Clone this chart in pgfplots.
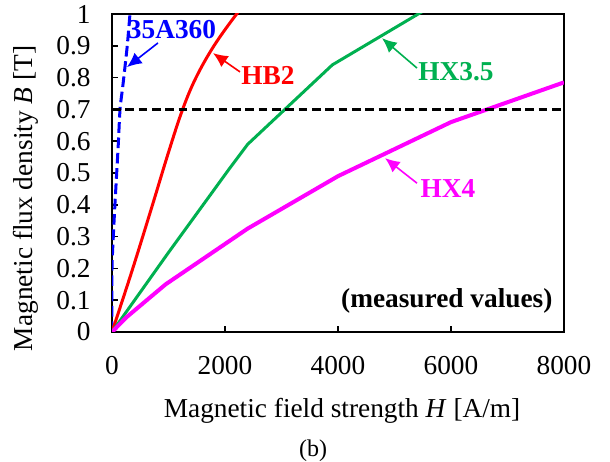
\documentclass[border=0pt]{standalone}
\usepackage{fontspec}
\setmainfont{Liberation Serif}
\usepackage{pgfplots}
\pgfplotsset{compat=1.18}
\usetikzlibrary{arrows.meta}
\definecolor{cblue}{RGB}{0,0,255}
\definecolor{cred}{RGB}{255,0,0}
\definecolor{cgreen}{RGB}{0,176,80}
\definecolor{cmag}{RGB}{255,0,255}
\newcommand{\fs}{\fontsize{20.5}{24}\selectfont}
\begin{document}
\begin{tikzpicture}
\begin{axis}[
  scale only axis, width=339pt, height=238.5pt,
  xmin=0, xmax=8000, ymin=0, ymax=1,
  xtick={0,2000,4000,6000,8000},
  ytick={0,0.1,0.2,0.3,0.4,0.5,0.6,0.7,0.8,0.9,1},
  yticklabels={0,0.1,0.2,0.3,0.4,0.5,0.6,0.7,0.8,0.9,1},
  tick align=inside, tick pos=left,
  major tick length=4.5pt,
  tick style={black, line width=1.1pt},
  axis line style={black, line width=1.5pt},
  tick label style={font=\rmfamily\fs},
  label style={font=\fs},
  /pgf/number format/assume math mode=true,
  /pgf/number format/1000 sep={},
  scaled x ticks=false,
  xticklabel style={yshift=-15pt},
  yticklabel style={xshift=-12.5pt},
  xlabel={Magnetic field strength \textit{H} [A/m]},
  ylabel={Magnetic flux density \textit{B} [T]},
  xlabel style={at={(axis description cs:0.509,-0.248)}, anchor=center},
  ylabel style={at={(axis description cs:-0.19,0.42)}, anchor=center},
]
% 35A360
\addplot[cblue, line width=2.25pt, dash pattern=on 8pt off 3.5pt, smooth, tension=0.4] coordinates {
 (0,0) (0,0.2) (23,0.30) (53,0.405) (83,0.50) (112,0.593) (142,0.70) (189,0.77) (230,0.834) (270,0.90) (318,1.0) (335,1.04)};
% HB2
\addplot[cred, line width=2.25pt, smooth, tension=0.6] coordinates {
 (0,0) (350,0.19) (700,0.39) (1000,0.565) (1250,0.7) (1487,0.8) (1805,0.9) (2206,1.0) (2450,1.05)};
% HX3.5
\addplot[cgreen, line width=2.25pt] coordinates {
 (0,0) (1000,0.25) (2059,0.509) (2400,0.59) (3900,0.84) (5420,1.0) (5800,1.04)};
% HX4
\addplot[cmag, line width=3pt] coordinates {
 (0,0) (260,0.047) (950,0.15) (2400,0.325) (4000,0.49) (6000,0.66) (8000,0.785)};
% 0.7 T line
\addplot[black, line width=2.25pt, dash pattern=on 6.5pt off 3.5pt] coordinates {(0,0.7) (8000,0.7)};

\node[cblue, font=\fs\bfseries] at (axis cs:1062,0.95) {35A360};
\draw[cblue, line width=1.2pt, -{Latex[length=11pt,width=10pt]}] (axis cs:814,0.909) -- (axis cs:265,0.833);
\node[cred, font=\fs\bfseries] at (axis cs:2761,0.808) {HB2};
\draw[cred, line width=1.2pt, -{Latex[length=11pt,width=10pt]}] (axis cs:2265,0.818) -- (axis cs:1788,0.877);
\node[cgreen, font=\fs\bfseries] at (axis cs:6088,0.818) {HX3.5};
\draw[cgreen, line width=1.2pt, -{Latex[length=11pt,width=10pt]}] (axis cs:5398,0.830) -- (axis cs:4779,0.924);
\node[cmag, font=\fs\bfseries] at (axis cs:5947,0.45) {HX4};
\draw[cmag, line width=1.2pt, -{Latex[length=11pt,width=10pt]}] (axis cs:5398,0.468) -- (axis cs:4832,0.547);
\node[black, font=\fs\bfseries, anchor=east] at (axis cs:7880,0.097) {(measured values)};

\coordinate (bbA) at (rel axis cs:-0.2478,1.044);
\coordinate (bbB) at (rel axis cs:1.1018,-0.4088);
\coordinate (cap) at (rel axis cs:0.445,-0.372);
\end{axis}
\node[font=\fontsize{18}{21}\selectfont] at (cap) {(b)};
\pgfresetboundingbox
\path (bbA) rectangle (bbB);
\end{tikzpicture}
\end{document}
